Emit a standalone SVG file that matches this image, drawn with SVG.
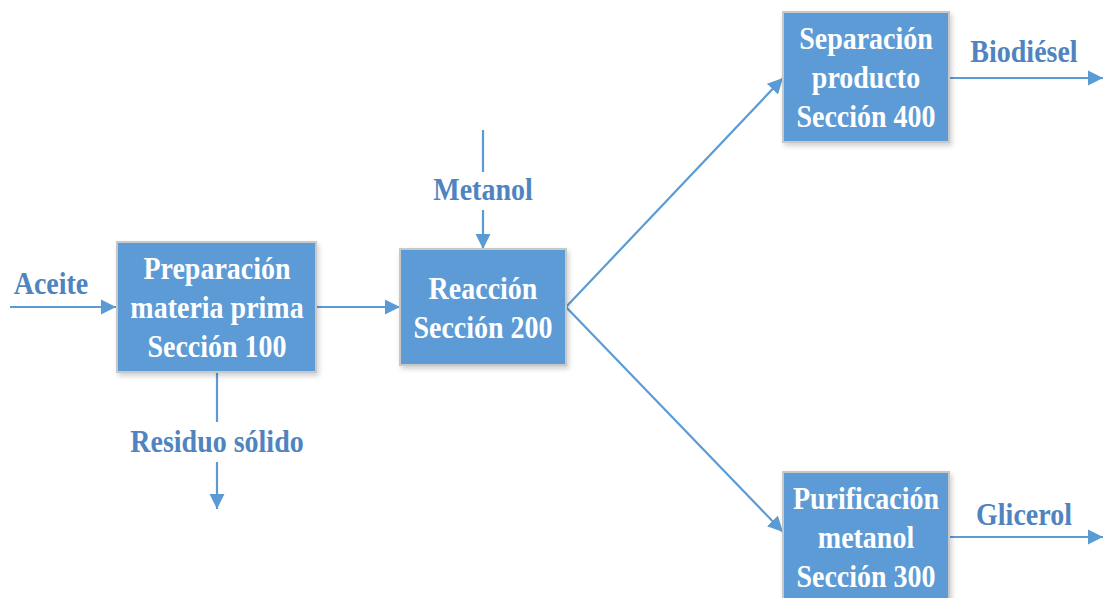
<svg xmlns="http://www.w3.org/2000/svg" width="1103" height="598" viewBox="0 0 1103 598">
<style>
.box{fill:#5b9bd5;stroke:#c8c8c8;stroke-width:2}
.bt{font-family:"Liberation Serif","Times New Roman",serif;font-weight:bold;font-size:28px;fill:#ffffff;text-anchor:middle}
.lb{font-family:"Liberation Serif","Times New Roman",serif;font-weight:bold;font-size:28px;fill:#4f84c0;text-anchor:middle}
.ln{stroke:#5b9bd5;stroke-width:2.2;fill:none}
</style>
<defs>
<marker id="ah" viewBox="0 0 10 10" refX="10" refY="5" markerWidth="7" markerHeight="7" markerUnits="strokeWidth" orient="auto">
<path d="M0,0 L10,5 L0,10 z" fill="#5b9bd5"/>
</marker>
<filter id="sh" x="-10%" y="-10%" width="125%" height="125%">
<feDropShadow dx="2" dy="3" stdDeviation="2.5" flood-color="#000" flood-opacity="0.18"/>
</filter>
</defs>
<g id="connectors">
<line class="ln" x1="10" y1="307" x2="116" y2="307" marker-end="url(#ah)"/>
<line class="ln" x1="317" y1="307" x2="400" y2="307" marker-end="url(#ah)"/>
<line class="ln" x1="483" y1="130" x2="483" y2="172"/>
<line class="ln" x1="483" y1="210" x2="483" y2="249" marker-end="url(#ah)"/>
<line class="ln" x1="217" y1="372" x2="217" y2="422"/>
<line class="ln" x1="217" y1="462" x2="217" y2="509" marker-end="url(#ah)"/>
<line class="ln" x1="566" y1="307" x2="783" y2="78" marker-end="url(#ah)"/>
<line class="ln" x1="566" y1="307" x2="783" y2="532" marker-end="url(#ah)"/>
<line class="ln" x1="948" y1="78" x2="1103" y2="78" marker-end="url(#ah)"/>
<line class="ln" x1="948" y1="537" x2="1103" y2="537" marker-end="url(#ah)"/>
</g>
<g id="labels">
<text class="lb" transform="translate(51,294) scale(1,1.15)">Aceite</text>
<text class="lb" transform="translate(483,200) scale(1,1.15)">Metanol</text>
<text class="lb" transform="translate(217,452) scale(1,1.15)">Residuo sólido</text>
<text class="lb" transform="translate(1024,62) scale(1,1.15)">Biodiésel</text>
<text class="lb" transform="translate(1024,525) scale(1,1.15)">Glicerol</text>
</g>
<g id="n100">
<rect class="box" x="117" y="242" width="199" height="130" filter="url(#sh)"/>
<text class="bt" transform="translate(217,279) scale(1,1.15)">Preparación</text>
<text class="bt" transform="translate(217,318) scale(1,1.15)">materia prima</text>
<text class="bt" transform="translate(217,357) scale(1,1.15)">Sección 100</text>
</g>
<g id="n200">
<rect class="box" x="400" y="249" width="166" height="116" filter="url(#sh)"/>
<text class="bt" transform="translate(483,299) scale(1,1.15)">Reacción</text>
<text class="bt" transform="translate(483,338) scale(1,1.15)">Sección 200</text>
</g>
<g id="n400">
<rect class="box" x="783" y="12" width="166" height="130" filter="url(#sh)"/>
<text class="bt" transform="translate(866,49) scale(1,1.15)">Separación</text>
<text class="bt" transform="translate(866,88) scale(1,1.15)">producto</text>
<text class="bt" transform="translate(866,127) scale(1,1.15)">Sección 400</text>
</g>
<g id="n300">
<rect class="box" x="783" y="472" width="166" height="140" filter="url(#sh)"/>
<text class="bt" transform="translate(866,509) scale(1,1.15)">Purificación</text>
<text class="bt" transform="translate(866,548) scale(1,1.15)">metanol</text>
<text class="bt" transform="translate(866,587) scale(1,1.15)">Sección 300</text>
</g>
</svg>
